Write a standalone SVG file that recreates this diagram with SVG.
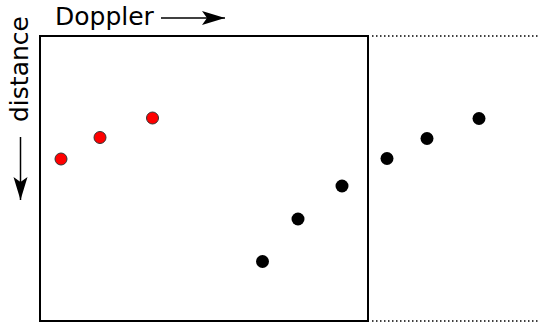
<svg xmlns="http://www.w3.org/2000/svg" width="538" height="325" viewBox="0 0 538 325">
<style>
.lbl{font-family:"DejaVu Sans",sans-serif;font-size:25px;fill:#000}
.red{fill:#ff0000;stroke:#333;stroke-width:1}
.blk{fill:#000}
.dot{stroke:#000;stroke-width:1.5;stroke-dasharray:1.5 2.5;fill:none}
.arr{stroke:#000;stroke-width:1.5;fill:none}
</style>
<defs>
<marker id="ah" markerWidth="24" markerHeight="16" refX="23" refY="8" orient="auto" markerUnits="userSpaceOnUse">
<path d="M0,1 L23,8 L0,15 L5,8 Z" fill="#000"/>
</marker>
</defs>
<g id="frame">
<rect x="40" y="36" width="328" height="285" fill="none" stroke="#000" stroke-width="2"/>
</g>
<g id="connectors">
<line class="dot" x1="372" y1="36" x2="538" y2="36"/>
<line class="dot" x1="372" y1="321" x2="538" y2="321"/>
<line class="arr" x1="161" y1="18" x2="225" y2="18" marker-end="url(#ah)"/>
<line class="arr" x1="20.5" y1="137" x2="20.5" y2="200" marker-end="url(#ah)"/>
</g>
<g id="labels">
<text class="lbl" x="55" y="25">Doppler</text>
<text class="lbl" transform="translate(28,122) rotate(-90)">distance</text>
</g>
<g id="red-points">
<circle class="red" cx="61" cy="159" r="6"/>
<circle class="red" cx="100" cy="137.5" r="6"/>
<circle class="red" cx="152.5" cy="118" r="6"/>
</g>
<g id="black-points">
<circle class="blk" cx="262.5" cy="261.5" r="6.5"/>
<circle class="blk" cx="298" cy="219" r="6.5"/>
<circle class="blk" cx="342" cy="186" r="6.5"/>
<circle class="blk" cx="387" cy="158.5" r="6.5"/>
<circle class="blk" cx="427" cy="138.5" r="6.5"/>
<circle class="blk" cx="479" cy="118.5" r="6.5"/>
</g>
</svg>
